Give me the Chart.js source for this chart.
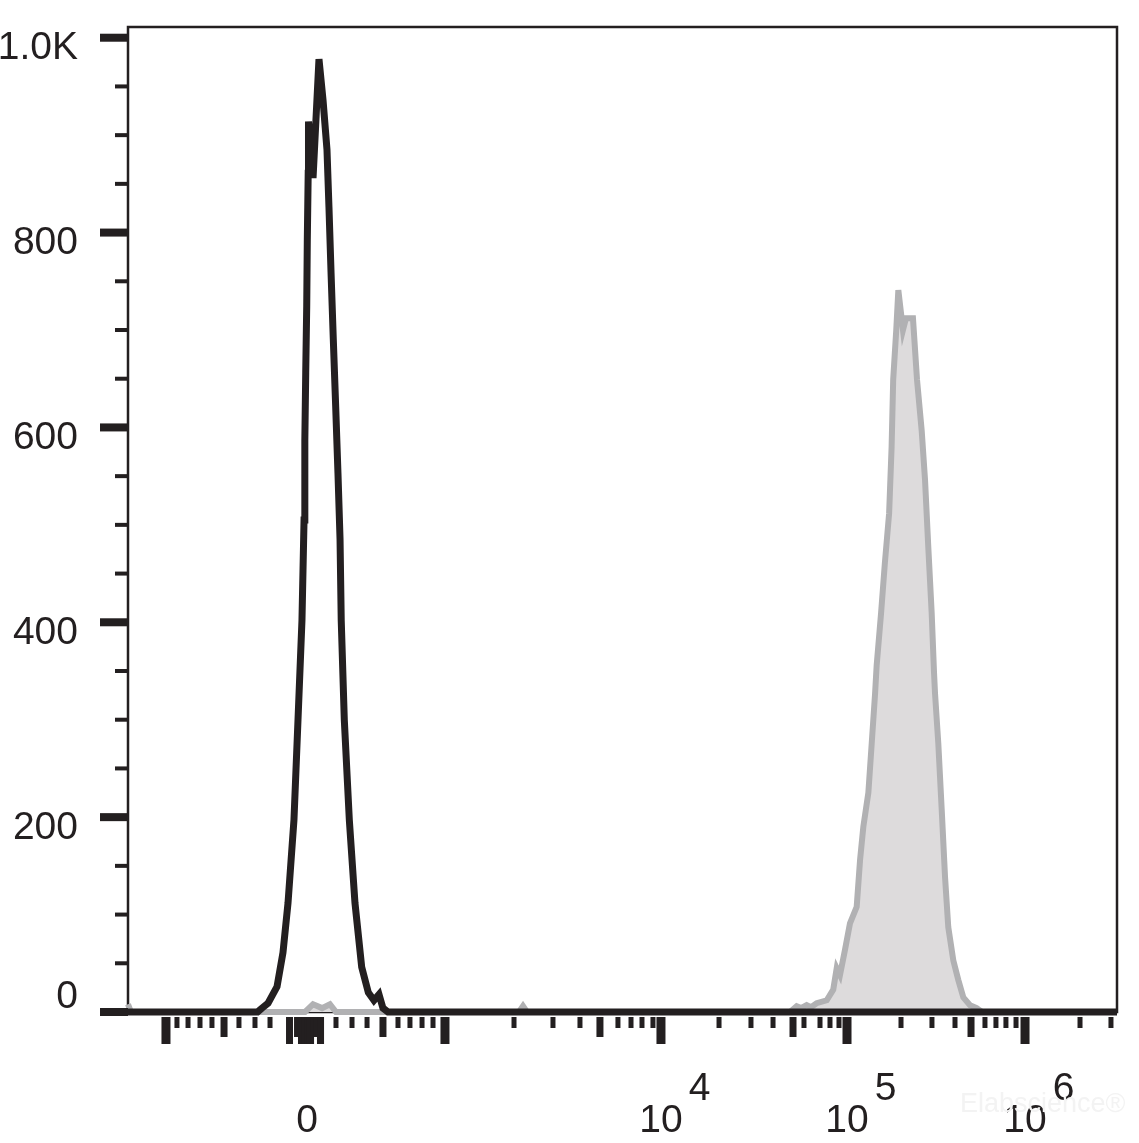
<!DOCTYPE html>
<html>
<head>
<meta charset="utf-8">
<script src="https://cdn.jsdelivr.net/npm/chart.js@4.4.1/dist/chart.umd.min.js"></script>
<style>
  html, body { margin: 0; padding: 0; background: #ffffff; }
  #wrap { width: 1139px; height: 1143px; position: relative; }
</style>
</head>
<body>
<div id="wrap"><canvas id="c"></canvas></div>
<script>
// ---- data (x in display channels 0..1000 of the biexponential axis, y = count) ----
const blackX = [0, 131, 135.5, 141.6, 150.7, 156.7, 161.8, 167.8, 171.9, 175.9, 178.0, 178.8,
  179.7, 180.7, 181.3, 182.2, 182.5, 187.1, 193.1, 197.2, 201.2, 203.2, 205.3, 207.6,
  210.0, 212.3, 214.4, 215.6, 218.7, 223.8, 229.5, 236.3, 243.0, 248.7, 253.8, 257.8, 262.9, 1000];
const blackY = [0, 0, 4, 9, 26, 61, 112, 197, 300, 402, 505, 587,
  656, 724, 793, 861, 914, 856, 978, 936, 885, 826, 759, 690,
  621, 553, 485, 402, 300, 197, 112, 46, 20, 12, 18, 4, 0, 0];

const grayX = [0, 3, 179, 187.1, 196.2, 204.2, 210.3, 395.3, 399.4, 403.4,
  669.4, 676.1, 680.5, 686.2, 690.6, 696.3, 706.5, 713.1, 716.6, 719.9, 725.0, 730.0,
  736.8, 740.2, 743.5, 748.6, 752.0, 755.4, 757.0, 761.5, 765.3, 769.6, 772.1, 773.7,
  776.8, 778.9, 783.6, 786.6, 793.7, 797.8, 802.5, 805.9, 809.2, 812.6, 815.0, 816.0,
  819.3, 822.8, 826.1, 829.4, 834.5, 839.5, 844.6, 851.4, 858.1, 863.5, 1000];
const grayY = [8, 0, 0, 8, 4, 8, 0, 0, 6, 0,
  0, 6, 4, 7, 5, 9, 12, 23, 45, 38, 64, 91,
  108, 156, 190, 225, 276, 327, 356, 410, 461, 512, 580, 649,
  700, 741, 700, 712, 712, 649, 597, 546, 477, 410, 348, 327,
  276, 207, 139, 87, 53, 33, 15, 7, 4, 0, 0];

// y axis ticks
const yMajorTicks = [0, 200, 400, 600, 800, 1000];
const yTickLabels = ['0', '200', '400', '600', '800', '1.0K'];
const yMinorTicks = [50, 100, 150, 250, 300, 350, 450, 500, 550, 650, 700, 750, 850, 900, 950];

// x axis ticks (channel positions)
const xMajorTicks = [38.4, 320.5, 538.9, 727.0, 907.0];
const xMidTicks = [97.1, 257.8, 477.2, 672.4, 852.4];
const xMinorTicks = [49.5, 60.7, 72.8, 84.9, 112.2, 128.4, 143.6, 210.3, 226.5, 241.7,
  273.0, 285.1, 297.3, 308.4, 390.3, 429.7, 457.0, 495.4, 508.6, 519.7, 530.8,
  597.6, 629.9, 652.2, 683.5, 699.7, 709.8, 718.9, 781.6, 812.9, 836.2, 866.5,
  877.6, 887.7, 897.9, 962.6, 993.9];
const xZeroLongTicks = [161.8, 164.8, 173.9, 177.0, 180.0, 183.0, 186.1, 193.1, 196.2];
const xZeroMidTicks = [169.9, 189.1];

// x axis labels
const xLabelPos = [181.0, 538.9, 727.0, 907.0];
const xLabelBase = ['0', '10', '10', '10'];
const xLabelExp = ['', '4', '5', '6'];

const INK = '#231f20';
const FONT = '"Liberation Sans", Arial, Helvetica, sans-serif';

const axesPlugin = {
  id: 'flowAxes',
  beforeDatasetsDraw(chart) {
    const { ctx, chartArea: a } = chart;
    ctx.save();
    ctx.strokeStyle = INK;
    ctx.lineWidth = 2.5;
    ctx.strokeRect(a.left, a.top, a.right - a.left, a.bottom - a.top);
    ctx.restore();
  },
  afterDraw(chart) {
    const { ctx, chartArea: a, scales } = chart;
    const xs = scales.x, ys = scales.y;
    ctx.save();
    ctx.fillStyle = INK;
    // y ticks
    yMajorTicks.forEach(v => {
      const py = ys.getPixelForValue(v);
      ctx.fillRect(100, py - 4, a.left - 100, 8);
    });
    yMinorTicks.forEach(v => {
      const py = ys.getPixelForValue(v);
      ctx.fillRect(115, py - 2, a.left - 115, 4);
    });
    // y labels
    ctx.font = '39px ' + FONT;
    ctx.textAlign = 'right';
    ctx.textBaseline = 'middle';
    yMajorTicks.forEach((v, i) => {
      const py = ys.getPixelForValue(v) + (v === 0 ? -15 : 11);
      ctx.fillText(yTickLabels[i], 78, py);
    });
    // x ticks
    const t0 = a.bottom + 5;
    const tick = (v, w, len) => {
      const px = xs.getPixelForValue(v);
      ctx.fillRect(px - w / 2, t0, w, len);
    };
    xMinorTicks.forEach(v => tick(v, 5, 11));
    xMidTicks.forEach(v => tick(v, 7, 20));
    xMajorTicks.forEach(v => tick(v, 9, 27));
    xZeroLongTicks.forEach(v => tick(v, 4, 27));
    xZeroMidTicks.forEach(v => tick(v, 4, 20));
    // x labels
    ctx.font = '39px ' + FONT;
    ctx.textBaseline = 'alphabetic';
    xLabelPos.forEach((v, i) => {
      const px = xs.getPixelForValue(v);
      ctx.textAlign = 'center';
      ctx.fillText(xLabelBase[i], px, 1132);
      if (xLabelExp[i]) {
        const w = ctx.measureText(xLabelBase[i]).width;
        ctx.textAlign = 'left';
        ctx.fillText(xLabelExp[i], px + w / 2 + 6, 1100);
      }
    });
    // faint watermark
    ctx.fillStyle = '#f3f3f3';
    ctx.font = '27px ' + FONT;
    ctx.textAlign = 'left';
    ctx.fillText('Elabscience\u00AE', 960, 1112);
    ctx.restore();
  }
};

const toPts = (xa, ya) => xa.map((x, i) => ({ x: x, y: ya[i] }));

new Chart(document.getElementById('c'), {
  type: 'line',
  data: {
    datasets: [
      {
        label: 'Control',
        data: toPts(blackX, blackY),
        borderColor: INK,
        borderWidth: 7,
        fill: false,
        pointRadius: 0,
        tension: 0,
        clip: false
      },
      {
        label: 'Stained',
        data: toPts(grayX, grayY),
        borderColor: '#b1b1b3',
        backgroundColor: '#dddbdc',
        borderWidth: 6,
        fill: 'origin',
        pointRadius: 0,
        tension: 0,
        clip: false
      }
    ]
  },
  options: {
    responsive: true,
    maintainAspectRatio: false,
    animation: false,
    devicePixelRatio: 1,
    layout: { padding: { left: 0, top: 27, right: 22, bottom: 0 } },
    plugins: { legend: { display: false }, tooltip: { enabled: false } },
    scales: {
      x: {
        type: 'linear', min: 0, max: 1000,
        ticks: { display: false }, grid: { display: false }, border: { display: false },
        afterFit: s => { s.height = 131; }
      },
      y: {
        type: 'linear', min: 0, max: 1011,
        ticks: { display: false }, grid: { display: false }, border: { display: false },
        afterFit: s => { s.width = 128; }
      }
    }
  },
  plugins: [axesPlugin]
});
</script>
</body>
</html>
